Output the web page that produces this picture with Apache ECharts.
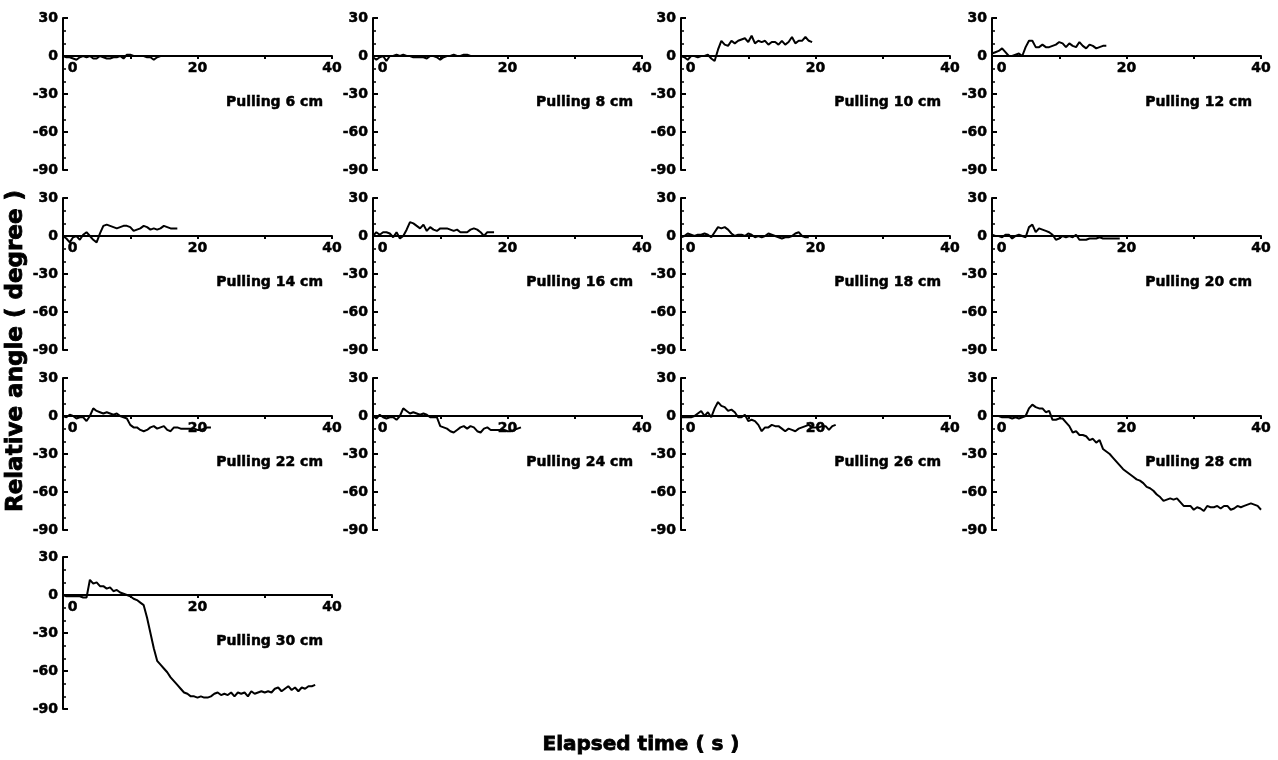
<!DOCTYPE html>
<html>
<head>
<meta charset="utf-8">
<script src="https://cdn.jsdelivr.net/npm/echarts@6/dist/echarts.min.js"></script>
<style>
  html, body { margin: 0; padding: 0; background: #fff; }
  #main { width: 1278px; height: 760px; }
</style>
</head>
<body>
<div id="main"></div>
<script>
// sampling step of the recordings (s)
var DT = 0.5;

var xTicks = [0, 20, 40];
var yTicks = [30, 0, -30, -60, -90];

var panelNames = ['Pulling 6 cm', 'Pulling 8 cm', 'Pulling 10 cm', 'Pulling 12 cm',
    'Pulling 14 cm', 'Pulling 16 cm', 'Pulling 18 cm', 'Pulling 20 cm',
    'Pulling 22 cm', 'Pulling 24 cm', 'Pulling 26 cm', 'Pulling 28 cm',
    'Pulling 30 cm'];

// relative angle (degree), one value every DT seconds
var pull6 = [0, -1, -1, -2, -3, -1, 0, -1, 0, -2, -2, 0, -1, -2, -2, -1, -1, 0, -2, 1,
    1, 0, 0, 0, 0, -1, -1, -3, -1, 0, 0, 0, 0, 0, 0];
var pull8 = [-1, -3, -1, 0, -4, 0, 0, 1, 0, 1, 0, 0, -1, -1, -1, -1, -2, 0, 0, -1,
    -3, -1, 0, 0, 1, 0, 0, 1, 1, 0, 0];
var pull10 = [0, -1, -3, 0, 0, -1, 0, 0, 1, -2, -4, 5, 12, 9, 8, 12, 10, 12, 13, 14,
    11, 16, 10, 12, 11, 12, 9, 11, 11, 9, 12, 9, 11, 15, 10, 12, 12, 15, 12, 11];
var pull12 = [2, 3, 4, 6, 3, 0, 0, 1, 2, 0, 7, 12, 12, 7, 7, 9, 7, 7, 8, 9,
    11, 10, 7, 10, 8, 7, 11, 8, 6, 9, 8, 6, 7, 8, 8];
var pull14 = [0, -2, -5, -1, 0, -3, 1, 3, 0, -3, -5, 2, 8, 9, 8, 7, 6, 7, 8, 8,
    7, 4, 5, 6, 8, 7, 5, 6, 5, 6, 8, 7, 6, 6, 6];
var pull16 = [0, 3, 1, 3, 3, 2, -1, 3, -2, 0, 5, 11, 10, 8, 6, 9, 4, 7, 5, 4,
    6, 6, 6, 5, 4, 5, 3, 3, 3, 5, 6, 5, 3, 0, 3, 3, 3];
var pull18 = [-1, 0, 2, 1, 0, 1, 1, 2, 1, -1, 3, 7, 6, 7, 5, 2, 0, 1, 1, 0,
    2, 1, -1, 0, -1, 0, 2, 1, 0, -1, -2, -1, -1, 0, 2, 3, 0, -1, -1];
var pull20 = [1, 0, 0, -1, 1, 1, -2, 0, 1, 0, -1, 7, 9, 3, 6, 5, 4, 3, 1, -3,
    -2, 0, -1, 0, -1, 1, -3, -3, -3, -2, -2, -2, -1, -2, -2, -2, -2, -2, -2];
var pull22 = [0, -1, 1, 0, -2, -1, -1, -4, 0, 6, 4, 3, 2, 3, 2, 1, 2, 0, -1, -2,
    -7, -9, -9, -11, -12, -11, -9, -8, -10, -9, -8, -11, -12, -9, -9, -10, -10, -10, -10, -10,
    -11, -11, -10, -9, -9];
var pull24 = [0, -2, 1, -1, -2, -1, -1, -3, 0, 6, 4, 2, 3, 2, 1, 2, 1, -1, -1, -1,
    -8, -9, -10, -12, -13, -11, -9, -8, -10, -8, -9, -12, -13, -10, -9, -11, -11, -11, -11, -11,
    -12, -12, -11, -10, -9];
var pull26 = [-1, -1, -1, -1, 0, 2, 4, 0, 3, -1, 6, 11, 8, 7, 4, 5, 3, -1, -1, 1,
    -4, -3, -4, -7, -12, -9, -9, -7, -8, -8, -10, -12, -10, -11, -12, -10, -9, -8, -7, -9,
    -9, -9, -8, -8, -11, -8, -7];
var pull28 = [0, 0, 0, -1, -1, -1, -2, -1, -2, -1, 0, 6, 9, 7, 6, 6, 3, 4, -3, -3,
    -2, -2, -5, -8, -13, -12, -15, -15, -16, -19, -18, -21, -19, -26, -28, -30, -33, -36, -39, -42,
    -44, -46, -48, -50, -51, -53, -56, -57, -59, -62, -64, -67, -66, -65, -66, -65, -68, -71, -71, -71,
    -74, -72, -73, -75, -71, -72, -72, -71, -73, -71, -71, -74, -73, -71, -72, -71, -70, -69, -70, -71,
    -74];
var pull30 = [0, -1, -1, -1, -1, -1, -2, -2, 12, 9, 10, 7, 7, 5, 6, 3, 4, 2, 1, 0,
    -1, -3, -4, -6, -8, -18, -30, -42, -52, -55, -58, -61, -65, -68, -71, -74, -77, -78, -80, -80,
    -81, -80, -81, -81, -80, -78, -77, -79, -78, -79, -77, -80, -77, -78, -77, -80, -76, -78, -77, -76,
    -77, -76, -77, -74, -73, -76, -74, -72, -75, -73, -76, -73, -74, -72, -72, -71];

var panelValues = [pull6, pull8, pull10, pull12, pull14, pull16, pull18, pull20,
    pull22, pull24, pull26, pull28, pull30];

var FONT = 'DejaVu Sans';
var colLeft = [63, 373, 681, 992];
var rowTop = [18, 198, 378, 557];
var gridW = 269;
var gridH = 152;

var yMin = yTicks[yTicks.length - 1];
var yMax = yTicks[0];
// x axis sits on the zero line: shift it up from the grid bottom
var xAxisOffset = -gridH * (0 - yMin) / (yMax - yMin);

var chartDom = document.getElementById('main');
var myChart = echarts.init(chartDom);
var option;

var labelStyle = {
    color: '#000',
    fontFamily: FONT,
    fontWeight: 'bold',
    fontSize: 14,
    textBorderColor: '#000',
    textBorderWidth: 0.5
};

var grids = [], xAxes = [], yAxes = [], series = [], texts = [];

panelValues.forEach(function (vals, k) {
    var left = colLeft[k % 4];
    var top = rowTop[Math.floor(k / 4)];
    grids.push({ left: left, top: top, width: gridW, height: gridH });
    xAxes.push({
        gridIndex: k,
        type: 'value',
        min: xTicks[0],
        max: xTicks[xTicks.length - 1],
        interval: 10,
        offset: xAxisOffset,
        axisLine: { onZero: false, lineStyle: { color: '#000', width: 2 } },
        axisTick: { show: true, length: 3, lineStyle: { color: '#000', width: 2 } },
        axisLabel: Object.assign({
            customValues: xTicks,
            margin: 5,
            alignMinLabel: 'left',
            formatter: function (v) { return v === 0 ? ' 0' : String(v); }
        }, labelStyle),
        splitLine: { show: false }
    });
    yAxes.push({
        gridIndex: k,
        type: 'value',
        min: yMin,
        max: yMax,
        interval: 30,
        axisLine: { show: true, lineStyle: { color: '#000', width: 2 } },
        axisTick: { show: true, length: -5, lineStyle: { color: '#000', width: 2 } },
        minorTick: { show: true, splitNumber: 3, length: -3, lineStyle: { color: '#000', width: 1.5 } },
        axisLabel: Object.assign({ margin: 5 }, labelStyle),
        splitLine: { show: false }
    });
    series.push({
        type: 'line',
        xAxisIndex: k,
        yAxisIndex: k,
        data: vals.map(function (v, i) { return [i * DT, v]; }),
        showSymbol: false,
        lineStyle: { color: '#000', width: 2 },
        silent: true
    });
    texts.push({
        type: 'text',
        x: left + 260,
        y: top + 84,
        style: {
            text: panelNames[k],
            fill: '#000',
            stroke: '#000',
            lineWidth: 0.5,
            font: 'bold 14px "' + FONT + '"',
            textAlign: 'right',
            textVerticalAlign: 'middle'
        }
    });
});

texts.push({
    type: 'text',
    x: 16,
    y: 351,
    rotation: Math.PI / 2,
    style: {
        text: 'Relative angle ( degree )',
        fill: '#000',
        stroke: '#000',
        lineWidth: 0.8,
        font: 'bold 23px "' + FONT + '"',
        textAlign: 'center',
        textVerticalAlign: 'middle'
    }
});
texts.push({
    type: 'text',
    x: 641,
    y: 745,
    style: {
        text: 'Elapsed time ( s )',
        fill: '#000',
        stroke: '#000',
        lineWidth: 0.8,
        font: 'bold 20px "' + FONT + '"',
        textAlign: 'center',
        textVerticalAlign: 'middle'
    }
});

option = {
    backgroundColor: '#fff',
    animation: false,
    grid: grids,
    xAxis: xAxes,
    yAxis: yAxes,
    series: series,
    graphic: texts
};

option && myChart.setOption(option);
</script>
</body>
</html>
